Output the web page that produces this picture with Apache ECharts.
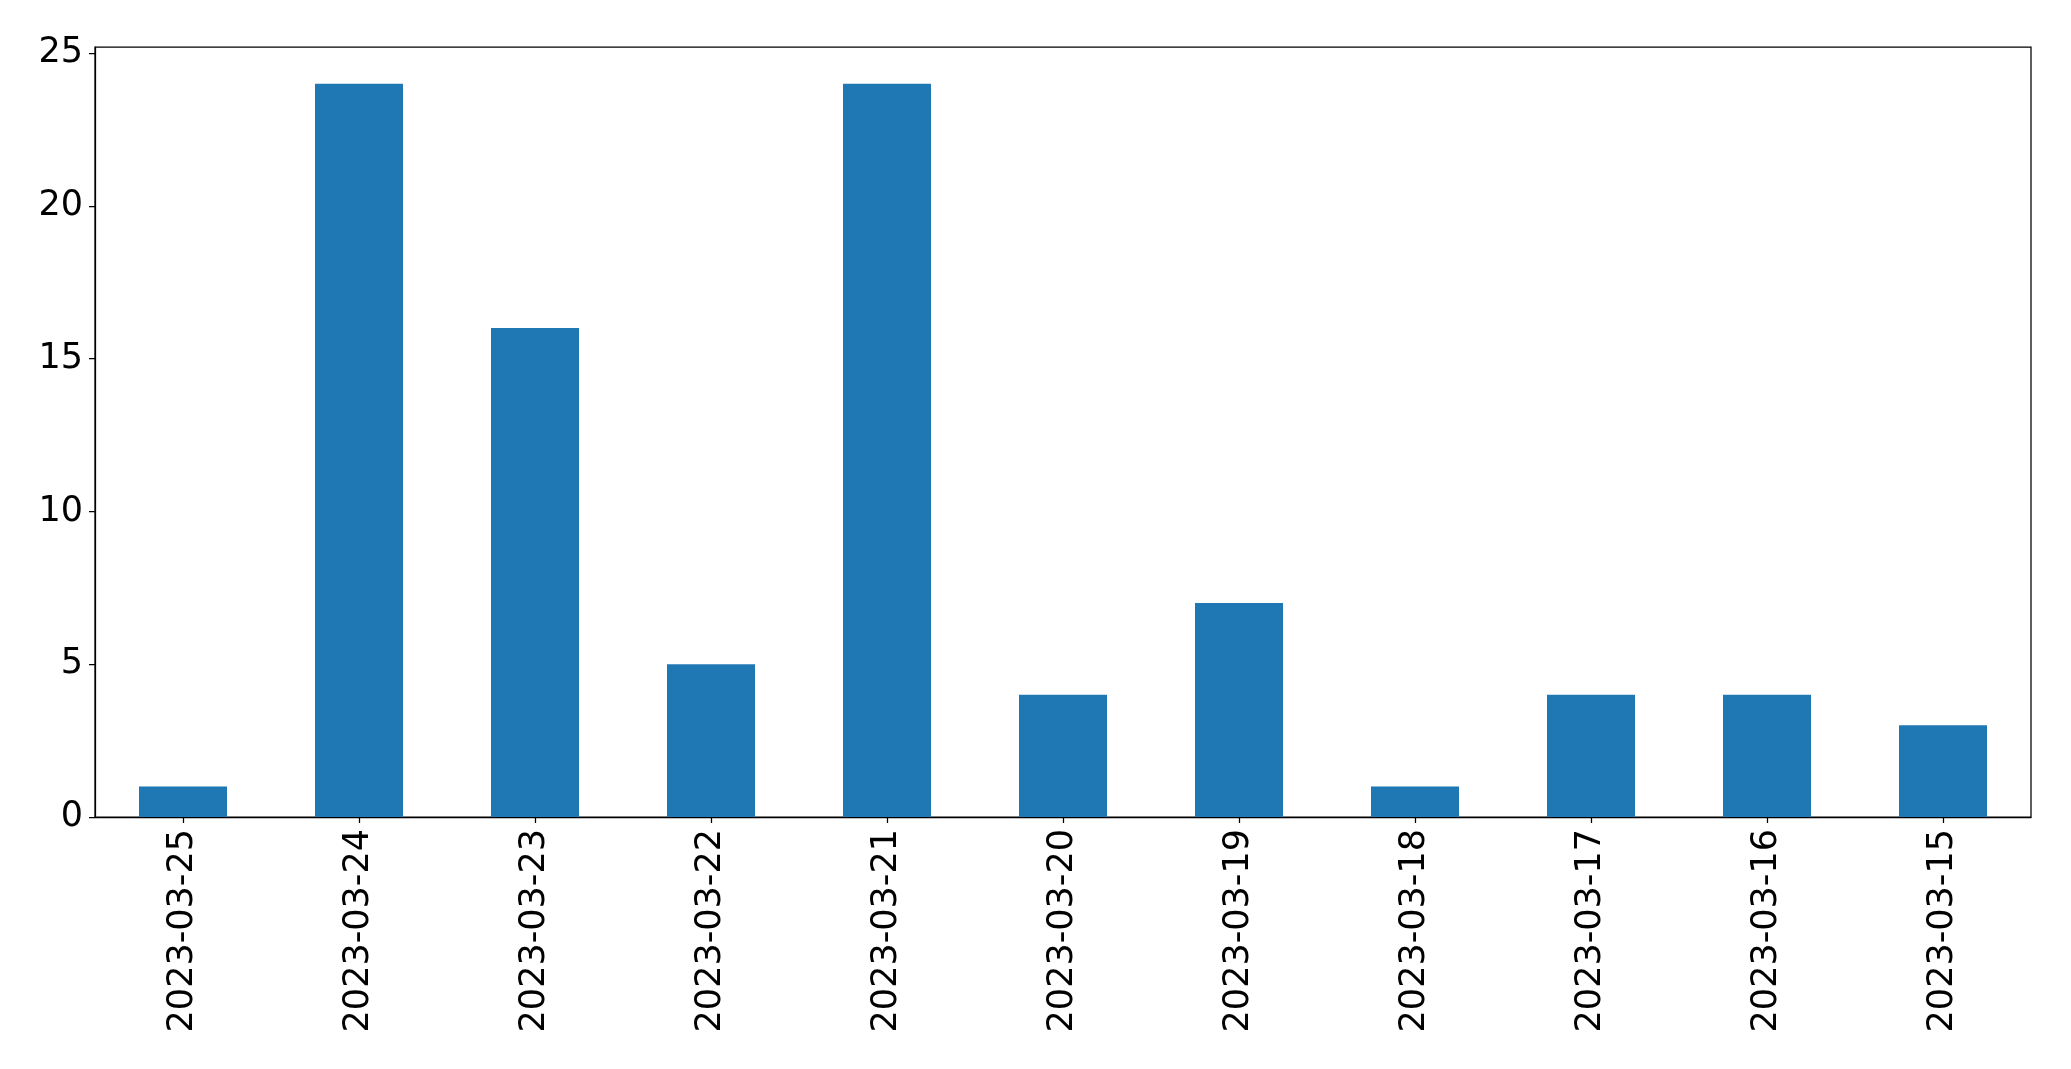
<!DOCTYPE html>
<html>
<head>
<meta charset="utf-8">
<script src="https://cdn.jsdelivr.net/npm/echarts@6/dist/echarts.min.js"></script>
<style>html,body{margin:0;padding:0;background:#fff;}#c{width:2071px;height:1069px;}</style>
</head>
<body>
<div id="c"></div>
<script>
const categories = ['2023-03-25','2023-03-24','2023-03-23','2023-03-22','2023-03-21','2023-03-20','2023-03-19','2023-03-18','2023-03-17','2023-03-16','2023-03-15'];
const values = [1, 24, 16, 5, 24, 4, 7, 1, 4, 4, 3];
const yTicks = [0, 5, 10, 15, 20, 25];

const chart = echarts.init(document.getElementById('c'), null, {renderer: 'canvas'});
const font = 'DejaVu Sans';
chart.setOption({
  animation: false,
  backgroundColor: '#fff',
  grid: {left: 95, right: 40, top: 47, bottom: 252, show: true, borderColor: '#000', borderWidth: 1.25, containLabel: false},
  xAxis: {
    type: 'category',
    data: categories,
    boundaryGap: true,
    axisLine: {show: true, lineStyle: {color: '#000', width: 1.25}},
    axisTick: {show: true, alignWithLabel: true, length: 6, lineStyle: {color: '#000', width: 1.25}},
    axisLabel: {rotate: 90, color: '#000', fontFamily: font, fontSize: 35, margin: 12, interval: 0},
    splitLine: {show: false}
  },
  yAxis: {
    type: 'value',
    min: 0, max: 25.2, interval: 5,
    axisLine: {show: true, lineStyle: {color: '#000', width: 1.25}},
    axisTick: {show: true, length: 6, lineStyle: {color: '#000', width: 1.25}, customValues: yTicks},
    axisLabel: {color: '#000', fontFamily: font, fontSize: 35, margin: 12, customValues: yTicks},
    splitLine: {show: false}
  },
  series: [{
    type: 'bar',
    data: values,
    barWidth: '50%',
    itemStyle: {color: '#1f77b4'}
  }]
});
</script>
</body>
</html>
